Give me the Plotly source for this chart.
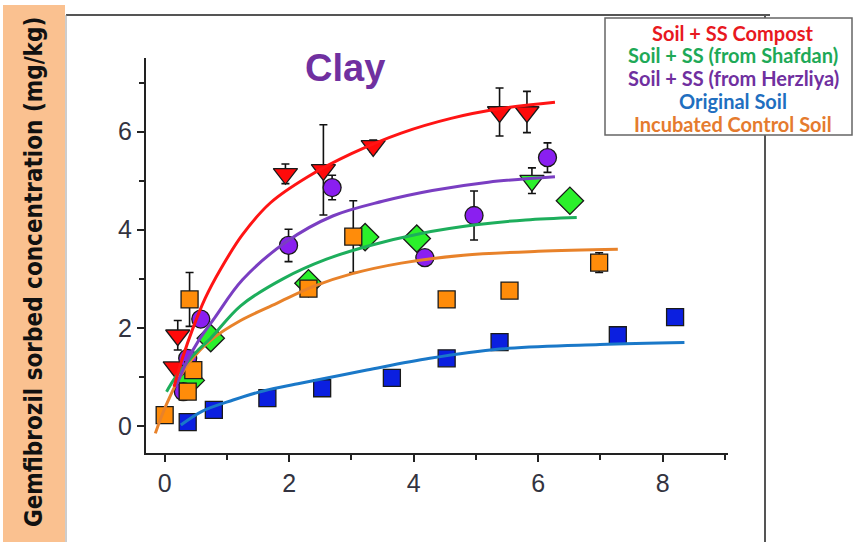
import plotly.graph_objects as go

# ---- measured points (x, y, error) ----
compost_x = [0.17, 0.21, 1.94, 2.55, 3.35, 5.38, 5.82]
compost_y = [1.20, 1.85, 5.14, 5.22, 5.71, 6.40, 6.40]
compost_err = [0.08, 0.30, 0.20, 0.92, 0.12, 0.49, 0.42]

shafdan_x = [0.42, 0.74, 2.31, 3.22, 4.05, 5.90, 6.51]
shafdan_y = [0.93, 1.79, 2.91, 3.85, 3.82, 5.00, 4.59]
shafdan_err = [0.08, 0.08, 0.10, 0.10, 0.15, 0.26, 0.15]
shafdan_sym = ["diamond", "diamond", "diamond", "diamond", "diamond", "triangle-down", "diamond"]

herzliya_x = [0.30, 0.37, 0.58, 1.99, 2.69, 4.18, 4.97, 6.15]
herzliya_y = [0.70, 1.38, 2.18, 3.68, 4.86, 3.43, 4.29, 5.47]
herzliya_err = [0.05, 0.10, 0.10, 0.33, 0.25, 0.15, 0.50, 0.30]

original_x = [0.37, 0.79, 1.65, 2.53, 3.65, 4.53, 5.38, 7.28, 8.20]
original_y = [0.08, 0.33, 0.57, 0.77, 0.98, 1.38, 1.71, 1.85, 2.22]
original_err = [0.04, 0.06, 0.04, 0.04, 0.04, 0.06, 0.06, 0.06, 0.06]

control_x = [0.00, 0.37, 0.46, 0.40, 2.31, 3.03, 4.53, 5.54, 6.98]
control_y = [0.22, 0.70, 1.14, 2.58, 2.80, 3.86, 2.58, 2.76, 3.33]
control_err = [0.08, 0.10, 0.12, 0.55, 0.12, 0.73, 0.05, 0.05, 0.20]

# ---- fitted isotherm curves ----
compost_fit_x = [0.15, 0.29, 0.45, 0.65, 0.90, 1.25, 1.70, 2.30, 3.00, 3.80, 4.60, 5.40, 6.27]
compost_fit_y = [0.80, 1.40, 1.98, 2.60, 3.20, 3.90, 4.55, 5.08, 5.55, 5.97, 6.27, 6.47, 6.60]

herzliya_fit_x = [0.18, 0.35, 0.55, 0.80, 1.25, 1.95, 2.70, 3.50, 4.30, 5.20, 6.27]
herzliya_fit_y = [0.80, 1.30, 1.75, 2.20, 2.98, 3.75, 4.28, 4.58, 4.80, 4.97, 5.08]

shafdan_fit_x = [0.03, 0.15, 0.30, 0.50, 0.74, 1.22, 1.90, 2.60, 3.30, 4.10, 5.00, 5.80, 6.62]
shafdan_fit_y = [0.70, 0.95, 1.20, 1.50, 1.79, 2.45, 3.00, 3.40, 3.68, 3.92, 4.10, 4.20, 4.25]

control_fit_x = [-0.15, -0.05, 0.05, 0.20, 0.40, 0.74, 1.22, 1.80, 2.40, 3.00, 3.80, 4.80, 6.00, 7.28]
control_fit_y = [-0.15, 0.20, 0.50, 0.90, 1.30, 1.75, 2.15, 2.50, 2.85, 3.10, 3.32, 3.48, 3.56, 3.60]

original_fit_x = [0.26, 0.60, 1.10, 1.60, 2.18, 3.25, 4.26, 5.38, 6.99, 8.35]
original_fit_y = [0.02, 0.30, 0.53, 0.72, 0.87, 1.14, 1.38, 1.57, 1.66, 1.70]

legend_labels = [
    "Soil + SS Compost",
    "Soil + SS (from Shafdan)",
    "Soil + SS (from Herzliya)",
    "Original Soil",
    "Incubated Control Soil",
]
legend_colors = ["#E8191F", "#1EA957", "#7030A0", "#1F6FC0", "#E57B2E"]

x_ticks = [0, 2, 4, 6, 8]
y_ticks = [0, 2, 4, 6]

W, H = 854, 542
L, R, T, B = 146, 728, 58, 453  # plot area in pixels


def px(xp):
    return (xp - L) / (R - L)


def py(yp):
    return (B - yp) / (B - T)


fig = go.Figure()

outline = dict(color="#1a1a1a", width=1.3)


def points(x, y, err, color, symbol, size):
    fig.add_trace(go.Scatter(
        x=x, y=y, mode="markers", showlegend=False,
        marker=dict(symbol=symbol, size=size, color=color, line=outline),
        error_y=dict(type="data", array=err, color="#111111", thickness=1.6, width=4),
    ))


points(original_x, original_y, original_err, "#0B1FE0", "square", 17)
points(compost_x, compost_y, compost_err, "#FF0A0A", "triangle-down", 21)
points(shafdan_x, shafdan_y, shafdan_err, "#2BF02B", shafdan_sym, 21)
points(herzliya_x, herzliya_y, herzliya_err, "#8A1FF0", "circle", 18)
points(control_x, control_y, control_err, "#FF8C0A", "square", 17)


def curve(x, y, color):
    fig.add_trace(go.Scatter(
        x=x, y=y, mode="lines", showlegend=False,
        line=dict(color=color, width=3, shape="spline", smoothing=1.0),
    ))


curve(original_fit_x, original_fit_y, "#1A78C8")
curve(control_fit_x, control_fit_y, "#E8822A")
curve(shafdan_fit_x, shafdan_fit_y, "#1DAE5C")
curve(herzliya_fit_x, herzliya_fit_y, "#7A3EC2")
curve(compost_fit_x, compost_fit_y, "#FF1414")

shapes = [
    # peach band behind the axis title
    dict(type="rect", xref="paper", yref="paper", x0=px(3), x1=px(65), y0=py(542), y1=py(5),
         fillcolor="#FAC190", line=dict(width=0), layer="below"),
    # outer frame
    dict(type="line", xref="paper", yref="paper", x0=px(66), x1=px(770), y0=py(15), y1=py(15),
         line=dict(color="#555555", width=2)),
    dict(type="line", xref="paper", yref="paper", x0=px(66), x1=px(66), y0=py(15), y1=py(542),
         line=dict(color="#9a9a9a", width=1)),
    dict(type="line", xref="paper", yref="paper", x0=px(765), x1=px(765), y0=py(15), y1=py(542),
         line=dict(color="#555555", width=2)),
    # legend box
    dict(type="rect", xref="paper", yref="paper", x0=px(605), x1=px(852), y0=py(135), y1=py(18),
         fillcolor="white", line=dict(color="#666666", width=1.5)),
]

annotations = [
    dict(text="<b>Clay</b>", xref="paper", yref="paper", x=px(345), y=py(68),
         xanchor="center", yanchor="middle",
         showarrow=False, font=dict(family="Liberation Sans, Arial", size=38, color="#7030A0")),
    dict(text="<b>Gemfibrozil sorbed concentration (mg/kg)</b>", xref="paper", yref="paper",
         x=px(34), y=py(272), xanchor="center", yanchor="middle", textangle=-90, showarrow=False,
         font=dict(family="DejaVu Sans Condensed, Liberation Sans", size=24, color="#111111")),
]
line_y = [33, 55, 78, 101, 124]
for label, color, yy in zip(legend_labels, legend_colors, line_y):
    annotations.append(dict(
        text=f"<b>{label}</b>", xref="paper", yref="paper", x=px(733), y=py(yy),
        xanchor="center", yanchor="middle",
        showarrow=False, font=dict(family="Lato, Open Sans", size=20, color=color)))

axis_font = dict(family="Liberation Sans, Arial", size=25, color="#333340")

fig.update_layout(
    width=W, height=H, autosize=False,
    margin=dict(l=L, r=W - R, t=T, b=H - B, pad=0),
    paper_bgcolor="white", plot_bgcolor="white",
    shapes=shapes, annotations=annotations,
    xaxis=dict(range=[-0.3, 9.05], tickvals=x_ticks, showgrid=False, zeroline=False,
               showline=True, linecolor="#222222", linewidth=2,
               ticks="outside", ticklen=7, tickwidth=2, tickcolor="#222222",
               minor=dict(dtick=1, tick0=0, ticks="outside", ticklen=5, tickwidth=2, tickcolor="#222222"),
               tickfont=axis_font),
    yaxis=dict(range=[-0.55, 7.5], tickvals=y_ticks, showgrid=False, zeroline=False,
               showline=True, linecolor="#222222", linewidth=2,
               ticks="outside", ticklen=7, tickwidth=2, tickcolor="#222222",
               minor=dict(dtick=1, tick0=0, ticks="outside", ticklen=5, tickwidth=2, tickcolor="#222222"),
               tickfont=axis_font),
)

fig.write_html("out.html")
